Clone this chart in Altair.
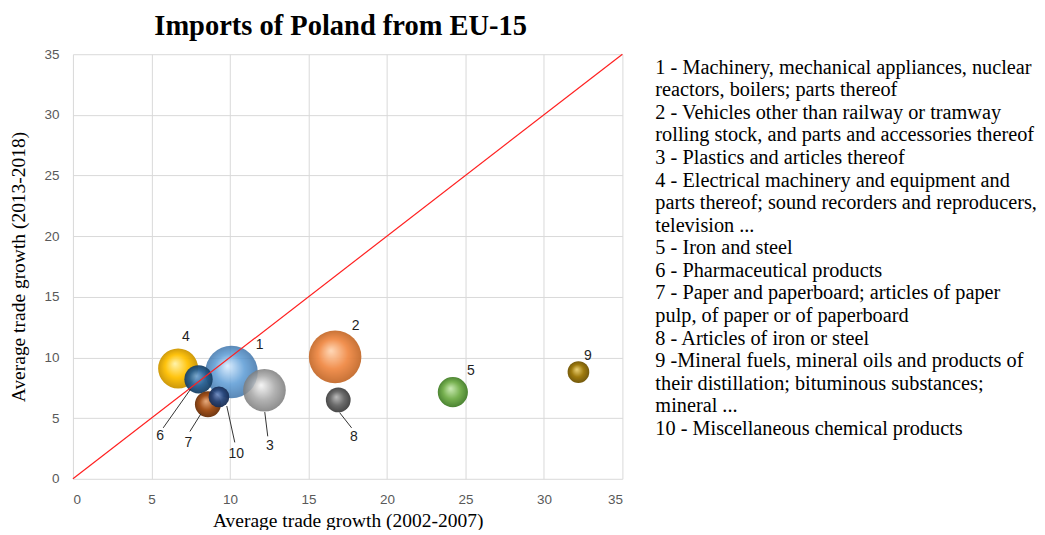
import altair as alt
import pandas as pd

# ---- data ----
ids = ["1", "2", "3", "4", "5", "6", "7", "8", "9", "10"]
growth_0207 = [10.1, 16.7, 12.2, 6.7, 24.2, 8.0, 8.6, 16.9, 32.2, 9.3]
growth_1318 = [8.8, 10.05, 7.3, 9.1, 7.15, 8.2, 6.15, 6.5, 8.8, 6.75]
bubble_size = [880, 880, 580, 510, 290, 256, 216, 196, 150, 137]

label_x = [11.9, 18.0, 12.55, 7.2, 25.35, 5.55, 7.35, 17.9, 32.8, 10.4]
label_y = [11.0, 12.6, 2.7, 11.7, 8.9, 3.5, 2.95, 3.45, 10.1, 2.05]

leader_ids = ["3", "6", "7", "8", "10"]
leader_x1 = [12.22, 7.5, 8.15, 16.99, 9.8]
leader_y1 = [5.5, 7.4, 5.35, 5.45, 6.0]
leader_x2 = [12.41, 5.75, 7.45, 17.75, 10.31]
leader_y2 = [3.5, 4.2, 3.9, 4.2, 3.0]

diag_x = [0, 35]
diag_y = [0, 35]

base_colors = ["#5B9BD5", "#F08A46", "#A5A5A5", "#FFC000", "#70AD47",
               "#255E91", "#9E480E", "#636363", "#997300", "#264478"]
light_colors = ["#d8ecff", "#ffd6b4", "#f4f4f4", "#fff3a8", "#c9eab2",
                "#74a6d2", "#e6a676", "#b8b8b8", "#ecd070", "#7390c6"]
dark_colors = ["#3b70a6", "#c0682a", "#767676", "#c69000", "#3f7a26",
               "#153b5e", "#652c06", "#3c3c3c", "#6a4f00", "#172b50"]

legend_lines = [
    "1 - Machinery, mechanical appliances, nuclear",
    "reactors, boilers; parts thereof",
    "2 - Vehicles other than railway or tramway",
    "rolling stock, and parts and accessories thereof",
    "3 - Plastics and articles thereof",
    "4 - Electrical machinery and equipment and",
    "parts thereof; sound recorders and reproducers,",
    "television ...",
    "5 - Iron and steel",
    "6 - Pharmaceutical products",
    "7 - Paper and paperboard; articles of paper",
    "pulp, of paper or of paperboard",
    "8 - Articles of iron or steel",
    "9 -Mineral fuels, mineral oils and products of",
    "their distillation; bituminous substances;",
    "mineral ...",
    "10 - Miscellaneous chemical products",
]

# ---- tables ----
df = pd.DataFrame({"id": ids, "x": growth_0207, "y": growth_1318, "w": bubble_size,
                   "lx": label_x, "ly": label_y})
lead = pd.DataFrame({"id": leader_ids, "x1": leader_x1, "y1": leader_y1,
                     "x2": leader_x2, "y2": leader_y2})
diag = pd.DataFrame({"x": diag_x, "y": diag_y})
leg = pd.DataFrame({"i": list(range(len(legend_lines))), "t": legend_lines})

xs = alt.Scale(domain=[0, 35], nice=False)
ys = alt.Scale(domain=[0, 35], nice=False)
ticks = list(range(0, 36, 5))

x_axis = alt.Axis(values=ticks, grid=True, gridColor="#d9d9d9", domain=False, ticks=False,
                  labelFont="Liberation Sans", labelFontSize=13.5, labelColor="#595959",
                  labelPadding=14, title="Average trade growth (2002-2007)",
                  titleFont="Liberation Serif", titleFontSize=19.5, titleFontWeight="normal",
                  titleColor="#000000", titlePadding=5)
y_axis = alt.Axis(values=ticks, grid=True, gridColor="#d9d9d9", domain=False, ticks=False,
                  labelFont="Liberation Sans", labelFontSize=13.5, labelColor="#595959",
                  labelPadding=14, title="Average trade growth (2013-2018)",
                  titleFont="Liberation Serif", titleFontSize=19.5, titleFontWeight="normal",
                  titleColor="#000000", titlePadding=15)

base = alt.Chart(df)

grid_layer = base.mark_point(opacity=0).encode(
    x=alt.X("x:Q", scale=xs, axis=x_axis),
    y=alt.Y("y:Q", scale=ys, axis=y_axis),
)

size_scale = alt.Scale(domain=[0, 1000], range=[0, 3142])

bubbles = []
for k, bid in enumerate(ids):
    grad = alt.Gradient(
        gradient="radial",
        stops=[alt.GradientStop(color=light_colors[k], offset=0),
               alt.GradientStop(color=base_colors[k], offset=0.55),
               alt.GradientStop(color=dark_colors[k], offset=1)],
        x1=0.42, y1=0.38, r1=0, x2=0.5, y2=0.5, r2=0.52,
    )
    bubbles.append(
        base.transform_filter(alt.datum.id == bid).mark_circle(
            color=grad, opacity=0.85 if bid in ("1", "3") else 0.95
        ).encode(
            x=alt.X("x:Q", scale=xs),
            y=alt.Y("y:Q", scale=ys),
            size=alt.Size("w:Q", scale=size_scale, legend=None),
        )
    )

diag_layer = alt.Chart(diag).mark_line(color="#ff2020", strokeWidth=1.2).encode(
    x=alt.X("x:Q", scale=xs), y=alt.Y("y:Q", scale=ys)
)

leader_layer = alt.Chart(lead).mark_rule(color="#333333", strokeWidth=1).encode(
    x=alt.X("x1:Q", scale=xs), y=alt.Y("y1:Q", scale=ys),
    x2="x2:Q", y2="y2:Q",
)

labels = base.mark_text(font="Liberation Sans", fontSize=14, color="#1f1f1f").encode(
    x=alt.X("lx:Q", scale=xs), y=alt.Y("ly:Q", scale=ys), text="id:N"
)

left = alt.layer(grid_layer, *bubbles, diag_layer, leader_layer, labels).properties(
    width=550, height=425,
    title=alt.TitleParams("Imports of Poland from EU-15", font="Liberation Serif",
                          fontSize=28.5, fontWeight="bold", color="#000000",
                          anchor="middle", offset=7, dx=-7),
)

right = alt.Chart(leg).mark_text(align="left", baseline="middle", font="Liberation Serif",
                                 fontSize=20.3, color="#000000").encode(
    x=alt.value(0),
    y=alt.Y("i:Q", scale=alt.Scale(domain=[-0.6, 18.21], reverse=True, nice=False, zero=False),
            axis=None),
    text="t:N",
).properties(width=360, height=425)

chart = alt.hconcat(
    left, right, spacing=30,
    padding={"top": 3, "left": 0, "right": 0, "bottom": 0},
).configure_view(strokeWidth=0, stroke="transparent")

chart.save("out.html", embed_options={"renderer": "svg", "actions": False})
